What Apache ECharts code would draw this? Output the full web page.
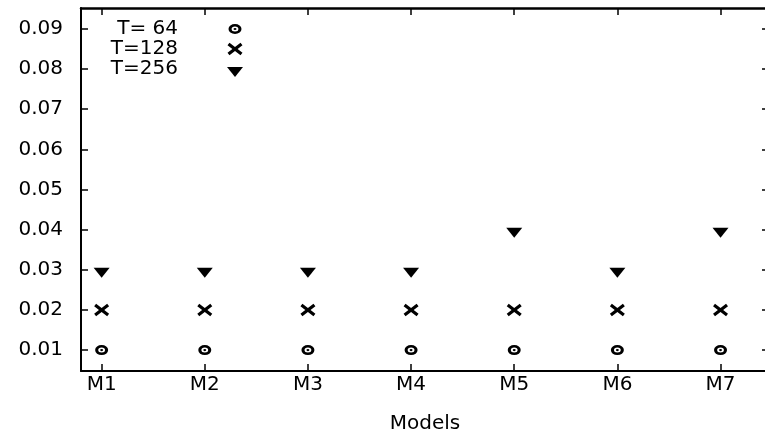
<!DOCTYPE html>
<html>
<head>
<meta charset="utf-8">
<script src="https://cdn.jsdelivr.net/npm/echarts@6/dist/echarts.min.js"></script>
<style>
  html, body { margin: 0; padding: 0; background: #fff; }
  #main { width: 765px; height: 436px; }
</style>
</head>
<body>
<div id="main"></div>
<script>
// data
var models = ['M1', 'M2', 'M3', 'M4', 'M5', 'M6', 'M7'];
var t64 = [0.01, 0.01, 0.01, 0.01, 0.01, 0.01, 0.01];
var t128 = [0.02, 0.02, 0.02, 0.02, 0.02, 0.02, 0.02];
var t256 = [0.03, 0.03, 0.03, 0.03, 0.04, 0.03, 0.04];
var yTicks = [0.01, 0.02, 0.03, 0.04, 0.05, 0.06, 0.07, 0.08, 0.09];
var seriesNames = ['T= 64', 'T=128', 'T=256'];

// symbols share an 18x16 frame (the two lone moves fix the bounds),
// a bit wider than tall like the original picture
var frame = 'path://M0,0M18,16';
var ringSym = frame + 'M2.5,8A6.5,5,0,1,1,15.5,8A6.5,5,0,1,1,2.5,8Z' +
  'M5.6,8A3.4,2.5,0,1,0,12.4,8A3.4,2.5,0,1,0,5.6,8Z' +
  'M7.5,8A1.5,1.1,0,1,1,10.5,8A1.5,1.1,0,1,1,7.5,8Z';
var crossSym = frame + 'M1.52,4.27L3.48,1.73L9,5.98L14.52,1.73L16.48,4.27L11.63,8' +
  'L16.48,11.73L14.52,14.27L9,10.02L3.48,14.27L1.52,11.73L6.37,8Z';
var triSym = frame + 'M1,6L17,6L9,16Z';
var symSize = [18, 16];

var font = 'DejaVu Sans';
var fs = 20;

function pts(vals) {
  return vals.map(function (v, i) { return [i + 1, v]; });
}
var xPos = models.map(function (m, i) { return i + 1; });

var myChart = echarts.init(document.getElementById('main'));

var lineSt = { color: '#000', width: 2 };
var tickSt = { color: '#000', width: 1.5 };
var dotStyle = { color: '#000', opacity: 1 };

var option = {
  backgroundColor: '#fff',
  animation: false,
  textStyle: { fontFamily: font, color: '#000' },
  grid: { left: 81, top: 8, width: 688, bottom: 65, containLabel: false, outerBoundsMode: 'none' },
  legend: {
    orient: 'vertical',
    align: 'right',
    right: 521,
    top: 19,
    padding: 0,
    itemGap: 0,
    itemWidth: 104,
    itemHeight: 16,
    selectedMode: false,
    textStyle: { fontFamily: font, fontSize: fs, color: '#000', lineHeight: 20 },
    data: [
      { name: seriesNames[0], icon: ringSym },
      { name: seriesNames[1], icon: crossSym },
      { name: seriesNames[2], icon: triSym }
    ]
  },
  xAxis: [{
    type: 'value',
    min: 0.8,
    max: 7.47,
    name: 'Models',
    nameLocation: 'middle',
    nameGap: 43,
    nameTextStyle: { fontFamily: font, fontSize: fs, color: '#000' },
    axisLine: { onZero: false, lineStyle: lineSt },
    axisTick: { inside: true, length: 7, lineStyle: tickSt, customValues: xPos },
    axisLabel: {
      fontFamily: font, fontSize: fs, color: '#000', margin: 4,
      customValues: xPos,
      formatter: function (v) { return models[Math.round(v) - 1]; }
    },
    splitLine: { show: false }
  }, {
    type: 'value',
    position: 'top',
    min: 0.8,
    max: 7.47,
    axisLine: { onZero: false, lineStyle: { color: '#000', width: 2.5 } },
    axisTick: { inside: true, length: 7, lineStyle: tickSt, customValues: xPos },
    axisLabel: { show: false },
    splitLine: { show: false }
  }],
  yAxis: [{
    type: 'value',
    min: 0.0048,
    max: 0.0952,
    axisLine: { show: true, onZero: false, lineStyle: lineSt },
    axisTick: { inside: true, length: 7, lineStyle: tickSt, customValues: yTicks },
    axisLabel: {
      fontFamily: font, fontSize: fs, color: '#000', margin: 18,
      customValues: yTicks,
      formatter: function (v) { return v.toFixed(2); }
    },
    splitLine: { show: false }
  }, {
    type: 'value',
    position: 'right',
    min: 0.0048,
    max: 0.0952,
    axisLine: { show: true, onZero: false, lineStyle: lineSt },
    axisTick: { inside: true, length: 7, lineStyle: tickSt, customValues: yTicks },
    axisLabel: { show: false },
    splitLine: { show: false }
  }],
  series: [
    { name: seriesNames[0], type: 'scatter', symbol: ringSym, symbolSize: symSize,
      itemStyle: dotStyle, data: pts(t64) },
    { name: seriesNames[1], type: 'scatter', symbol: crossSym, symbolSize: symSize,
      itemStyle: dotStyle, data: pts(t128) },
    { name: seriesNames[2], type: 'scatter', symbol: triSym, symbolSize: symSize,
      itemStyle: dotStyle, data: pts(t256) }
  ]
};

myChart.setOption(option);
</script>
</body>
</html>
